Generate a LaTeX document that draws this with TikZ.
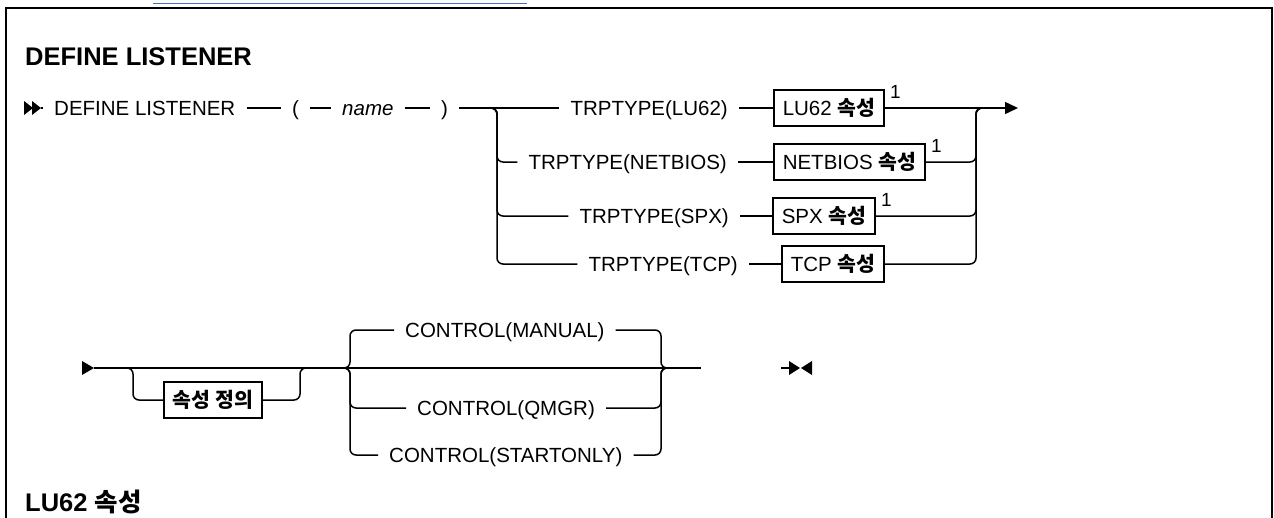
\documentclass[tikz,border=0pt]{standalone}
\usepackage{fontspec}
\setmainfont{Liberation Sans}
\newfontfamily\kr{Noto Sans CJK KR}
\usetikzlibrary{arrows.meta,positioning}
\definecolor{linkblue}{rgb}{0.29,0.43,0.74}
\newcommand\rrfont{\fontsize{20.5pt}{25pt}\selectfont}
\newcommand\ko[1]{{\kr\bfseries #1}}

\begin{document}
\begin{tikzpicture}[x=1pt,y=-1pt,
    ln/.style={line width=1.5pt},
    rr/.style={ln,rounded corners=6pt},
    tok/.style={inner xsep=11pt,inner ysep=0pt,text height=15pt,text depth=0pt,font=\rrfont},
    box/.style={draw,line width=1.5pt,inner xsep=9pt,inner ysep=0pt,minimum height=36pt,text height=15pt,text depth=0pt,font=\rrfont},
    sup/.style={inner sep=0pt,font=\fontsize{19pt}{22pt}\selectfont},
    head/.style={inner sep=0pt,font=\fontsize{25.5pt}{30pt}\selectfont\bfseries},
    tip/.style={-{Triangle[length=13pt,width=12pt]}}]
  \useasboundingbox (0,0) rectangle (1274,517);
  \fill[white] (0,0) rectangle (1274,517);
  \draw[linkblue,line width=1pt] (153,3) -- (527,3);
  \draw[line width=2.5pt] (6,520) -- (6,8) -- (1272,8) -- (1272,520);

  \node[head,anchor=base west] (ttl) at (25,65) {DEFINE LISTENER};
  \node[head,anchor=base west] (lut) at (25,511) {LU62 \ko{속성}};

  \node[tok,anchor=west] (cmd) at (43,108) {DEFINE LISTENER};
  \node[tok,anchor=west] (lp) at (281,108) {(};
  \node[tok,anchor=west] (nm) at (331,108) {\itshape name};
  \node[tok,anchor=west] (rp) at (430,108) {)};
  \node[tok,anchor=east] (tlu) at (739,108) {TRPTYPE(LU62)};
  \node[tok,anchor=east] (tnb) at (738,162) {TRPTYPE(NETBIOS)};
  \node[tok,anchor=east] (tsx) at (740,216) {TRPTYPE(SPX)};
  \node[tok,anchor=east] (ttc) at (749,264) {TRPTYPE(TCP)};
  \node[box,anchor=west] (blu) at (773,108) {LU62 \ko{속성}};
  \node[box,anchor=west] (bnb) at (773,162) {NETBIOS \ko{속성}};
  \node[box,anchor=west] (bsx) at (772,216) {SPX \ko{속성}};
  \node[box,anchor=west] (btc) at (781,264) {TCP \ko{속성}};
  \node[sup,anchor=west] (ulu) at ([xshift=5pt,yshift=-3pt]blu.north east) {1};
  \node[sup,anchor=west] (unb) at ([xshift=5pt,yshift=-3pt]bnb.north east) {1};
  \node[sup,anchor=west] (usx) at ([xshift=5pt,yshift=-3pt]bsx.north east) {1};
  \coordinate (in1) at (41,108);
  \coordinate (out1) at (1018,108);
  \coordinate (sp1) at (488,108);
  \coordinate (lvt) at (497,108);
  \coordinate (rvt) at (976,108);
  \coordinate (jn1) at (986,108);

  \fill (24,101) -- (33,108) -- (24,115) -- cycle (32,101) -- (41,108) -- (32,115) -- cycle;
  \draw[ln] (in1) -- (cmd) (cmd) -- (lp) (lp) -- (nm) (nm) -- (rp) (rp) -- (tlu) (tlu) -- (blu);
  \draw[ln,tip] (blu) -- (out1);
  \draw[rr] (sp1) -- (lvt) |- (tnb);
  \draw[rr] (sp1) -- (lvt) |- (tsx);
  \draw[rr] (sp1) -- (lvt) |- (ttc);
  \draw[ln] (tnb) -- (bnb) (tsx) -- (bsx) (ttc) -- (btc);
  \draw[rr] (bnb) -| (rvt) -- (jn1);
  \draw[rr] (bsx) -| (rvt) -- (jn1);
  \draw[rr] (btc) -| (rvt) -- (jn1);

  \node[box,anchor=west] (def) at (163,400) {\ko{속성 정의}};
  \node[tok,anchor=west] (cman) at (394,330) {CONTROL(MANUAL)};
  \node[tok,anchor=west] (cqm) at (406,408) {CONTROL(QMGR)};
  \node[tok,anchor=west] (cso) at (378,455) {CONTROL(STARTONLY)};
  \coordinate (in2) at (94,368);
  \coordinate (out2) at (701,368);
  \coordinate (bp1) at (121,368);
  \coordinate (bpl) at (133,368);
  \coordinate (bpr) at (300,368);
  \coordinate (bp2) at (312,368);
  \coordinate (ch1) at (342,368);
  \coordinate (chl) at (350,368);
  \coordinate (chr) at (661,368);
  \coordinate (ch2) at (669,368);
  \coordinate (fin) at (781,368);
  \coordinate (fin2) at (790,368);

  \fill (82,361) -- (94,368) -- (82,375) -- cycle;
  \draw[ln] (in2) -- (out2);
  \draw[rr] (bp1) -- (bpl) |- (def);
  \draw[rr] (def) -| (bpr) -- (bp2);
  \draw[rr] (ch1) -- (chl) |- (cman);
  \draw[rr] (ch1) -- (chl) |- (cqm);
  \draw[rr] (ch1) -- (chl) |- (cso);
  \draw[rr] (cman) -| (chr) -- (ch2);
  \draw[rr] (cqm) -| (chr) -- (ch2);
  \draw[rr] (cso) -| (chr) -- (ch2);
  \draw[ln] (fin) -- (fin2);
  \fill (789,361) -- (800,368) -- (789,375) -- cycle (812,361) -- (801,368) -- (812,375) -- cycle;
\end{tikzpicture}
\end{document}
